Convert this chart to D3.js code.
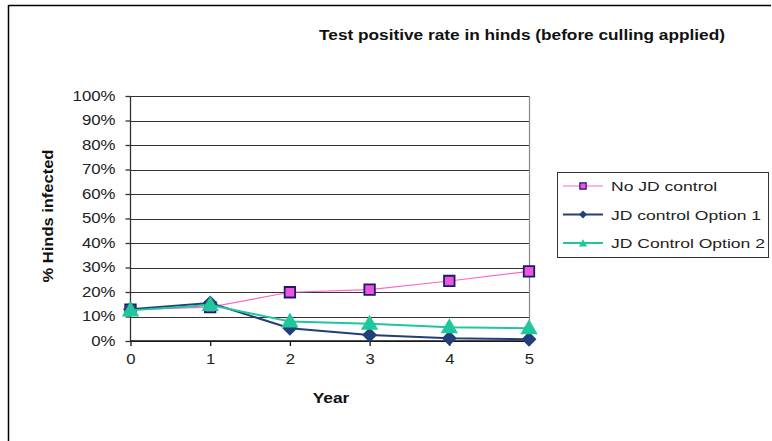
<!DOCTYPE html>
<html><head><meta charset="utf-8">
<script src="https://cdn.jsdelivr.net/npm/d3@7"></script>
<style>body{margin:0;background:#fff}svg{display:block}text{font-family:"Liberation Sans",Arial,sans-serif}</style>
</head><body>
<svg id="c" width="772" height="441"></svg>
<script>
const years = [0, 1, 2, 3, 4, 5];
const noControl = [0.128, 0.138, 0.199, 0.21, 0.245, 0.284];
const option1 = [0.13, 0.155, 0.052, 0.024, 0.011, 0.007];
const option2 = [0.125, 0.147, 0.08, 0.07, 0.056, 0.052];
const yTicks = [0, 0.1, 0.2, 0.3, 0.4, 0.5, 0.6, 0.7, 0.8, 0.9, 1.0];
const seriesNames = ["No JD control", "JD control Option 1", "JD Control Option 2"];

const svg = d3.select("#c");
// outer frame (top and left edges visible)
svg.append("line").attr("x1",8.5).attr("x2",771).attr("y1",5.5).attr("y2",5.5).attr("stroke","#000").attr("stroke-width",1.5);
svg.append("line").attr("x1",8.5).attr("x2",8.5).attr("y1",5).attr("y2",441).attr("stroke","#000").attr("stroke-width",1.5);

const L=130.5, R=529, T=96, B=341;
const x = d3.scaleLinear().domain([0,5]).range([L,R]);
const y = d3.scaleLinear().domain([0,1]).range([B,T]);

// gridlines
svg.append("g").selectAll("line").data(yTicks).join("line")
  .attr("x1",L).attr("x2",R).attr("y1",d=>Math.round(y(d))+0.5).attr("y2",d=>Math.round(y(d))+0.5)
  .attr("stroke","#333").attr("stroke-width",1);
// right border
svg.append("line").attr("x1",R+0.5).attr("x2",R+0.5).attr("y1",T).attr("y2",B).attr("stroke","#888").attr("stroke-width",1.2);

function stretchAxisText(sel, sx){
  sel.each(function(){
    const t = d3.select(this);
    const tx = +t.attr("x")||0, ty = +t.attr("y")||0;
    t.attr("x",0).attr("y",0).attr("transform",`translate(${tx},${ty}) scale(${sx},1)`);
  });
}

// axes
const yAxis = d3.axisLeft(y).tickValues(yTicks).tickFormat(d3.format(".0%")).tickSize(5).tickPadding(10);
const gy = svg.append("g").attr("transform",`translate(${L},0)`).call(yAxis);
gy.attr("font-family",null);
gy.selectAll("text").attr("font-size",14).attr("fill","#222");
stretchAxisText(gy.selectAll("text"),1.2);
gy.selectAll("line,path").attr("stroke","#333").attr("stroke-width",1.3);
gy.select(".domain").attr("d",`M0,${T}V${B}`);

const xAxis = d3.axisBottom(x).tickValues(years).tickFormat(d3.format("d")).tickSize(5).tickPadding(8);
const gx = svg.append("g").attr("transform",`translate(0,${B})`).call(xAxis);
gx.attr("font-family",null);
gx.selectAll("text").attr("font-size",14.5).attr("fill","#222");
stretchAxisText(gx.selectAll("text"),1.15);
gx.selectAll("line,path").attr("stroke","#111").attr("stroke-width",1.3);
gx.select(".domain").attr("d",`M${L},0H${R}`);

// titles
svg.append("text").attr("transform","translate(522,40) scale(1.15,1)").attr("text-anchor","middle").attr("font-size",15).attr("font-weight","bold").attr("fill","#111")
  .text("Test positive rate in hinds (before culling applied)");
svg.append("text").attr("transform","translate(52.5,216) rotate(-90) scale(1.1,1)").attr("text-anchor","middle").attr("font-size",15).attr("font-weight","bold").attr("fill","#111")
  .text("% Hinds infected");
svg.append("text").attr("transform","translate(331,403) scale(1.2,1)").attr("text-anchor","middle").attr("font-size",14.5).attr("font-weight","bold").attr("fill","#111")
  .text("Year");

const line = d3.line().x((d,i)=>x(years[i])).y(d=>y(d));
const dia = (cx,cy,s)=>`M${cx},${cy-s}L${cx+s},${cy}L${cx},${cy+s}L${cx-s},${cy}Z`;

const styles = [
  {data:noControl, color:"#ff66cc", w:1.2, marker:"sq"},
  {data:option1, color:"#223f7a", w:2, marker:"dia"},
  {data:option2, color:"#1fc89a", w:2, marker:"tri"}
];
function drawMarker(g, kind, cx, cy, small){
  if(kind==="sq"){
    g.append("path").attr("d",d3.symbol().type(d3.symbolSquare).size(small?40:110)()).attr("transform",`translate(${cx},${cy})`)
      .attr("fill","#ee55dd").attr("stroke","#1a1a6e").attr("stroke-width",small?1.2:1.8);
  } else if(kind==="dia"){
    g.append("path").attr("d",dia(cx,cy,small?4:7.5)).attr("fill","#223f7a");
  } else {
    g.append("path").attr("d",d3.symbol().type(d3.symbolTriangle).size(small?30:130)()).attr("transform",`translate(${cx},${cy+1})`).attr("fill","#1fc89a");
  }
}
styles.forEach(s=>{
  const g = svg.append("g");
  g.append("path").attr("d",line(s.data)).attr("fill","none").attr("stroke",s.color).attr("stroke-width",s.w);
  s.data.forEach((v,i)=>drawMarker(g,s.marker,x(years[i]),y(v),false));
});

// legend
const lg = svg.append("g");
lg.append("rect").attr("x",557.5).attr("y",172.5).attr("width",211).attr("height",85).attr("fill","#fff").attr("stroke","#333").attr("stroke-width",1);
seriesNames.forEach((n,i)=>{
  const cy = 186 + i*28.5;
  lg.append("line").attr("x1",563).attr("x2",603).attr("y1",cy).attr("y2",cy).attr("stroke",styles[i].color).attr("stroke-width",styles[i].w);
  drawMarker(lg, styles[i].marker, 583, cy, true);
  lg.append("text").attr("transform",`translate(611,${cy+5}) scale(1.3,1)`).attr("font-size",13.5).attr("fill","#222").text(n);
});
</script>
</body></html>
